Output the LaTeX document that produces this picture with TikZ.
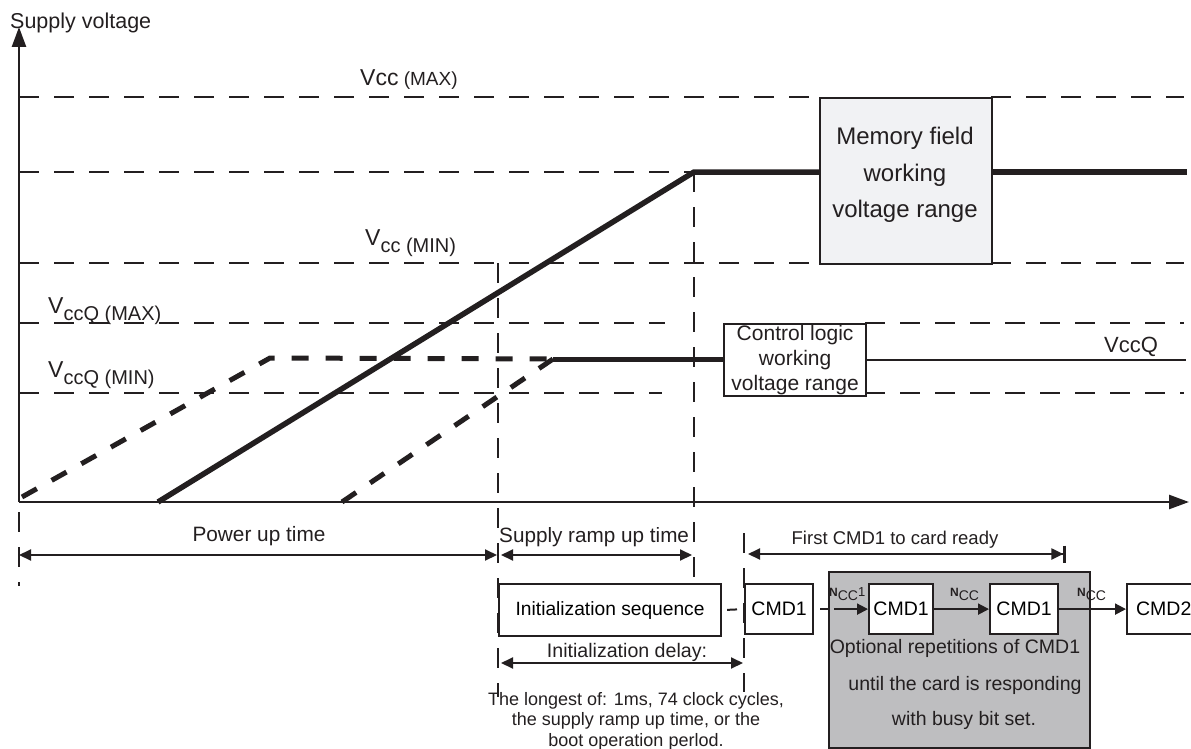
\documentclass[tikz,border=0pt]{standalone}
\usepackage{fontspec}
\setmainfont{Liberation Sans}
\usetikzlibrary{arrows.meta}
\definecolor{ink}{RGB}{35,31,32}
\definecolor{fieldFill}{RGB}{241,242,244}
\definecolor{repFill}{RGB}{190,190,192}
\newcommand{\fsz}[1]{\fontsize{#1}{#1}\selectfont}
\newcommand{\vsub}[1]{{\fsz{23}V}\raisebox{-7pt}{\fsz{20}#1}}
\newcommand{\ncc}{{\fsz{12}\bfseries N}\raisebox{-4pt}{\fsz{14}CC}}
\begin{document}
\begin{tikzpicture}
[x=1pt,y=-1pt,
  gridDecorate/.style={ink,line width=2.2pt,dash pattern=on 20pt off 15pt},
  axisDecorate/.style={ink,line width=2.6pt,-{Triangle[length=20pt,width=14pt]}},
  rampDecorate/.style={ink,line width=5.5pt},
  rampDashDecorate/.style={ink,line width=5pt,dash pattern=on 17pt off 17pt},
  boxDecorate/.style={draw=ink,line width=2.2pt,inner sep=0pt,anchor=north west,fill=white},
  dimDecorate/.style={ink,line width=2pt,{Triangle[length=12pt,width=11pt]}-{Triangle[length=12pt,width=11pt]}},
  seqDecorate/.style={ink,line width=2pt,-{Triangle[length=11pt,width=11pt]}},
  txtDecorate/.style={ink,inner sep=0pt,anchor=base}]
\useasboundingbox (0,0) rectangle (1191,749);
%% axes
\coordinate (O) at (19,502);
\coordinate (ytip) at (19,27);
\coordinate (xtip) at (1189,502);
\node (ylab) [txtDecorate,anchor=base west] at (10,29) {\fsz{21.5}Supply voltage};
\draw[axisDecorate] (O) -- (ytip);
\draw[axisDecorate] (O) -- (xtip);
%% voltage levels
\foreach \ya/\xa/\xb in {97/19/819, 97/991/1184, 172/19/694, 263/19/819, 263/991/1184,
  323/19/665, 323/865/1184, 393/19/662, 393/865/1184}
  \draw[gridDecorate] (\xa,\ya) -- (\xb,\ya);
%% time marks
\foreach \xa/\ya/\yb in {19/512/586, 498/263/697, 694/172/583, 744/533/692}
  \draw[gridDecorate] (\xa,\ya) -- (\xa,\yb);
%% working range boxes
\node (field) [boxDecorate,fill=fieldFill,minimum width=172pt,minimum height=166pt] at (819,97) {};
\node (fieldtxt) [ink,align=center,inner sep=0pt,font=\fontsize{24}{36.5}\selectfont] at (905,175)
  {Memory field\\working\\voltage range};
\node (ctl) [boxDecorate,minimum width=142pt,minimum height=72pt] at (723,323) {};
\node (ctltxt) [ink,align=center,inner sep=0pt,font=\fontsize{21}{25}\selectfont] at (ctl.center)
  {Control logic\\working\\voltage range};
%% level labels
\node (vccmax) [txtDecorate,anchor=base west] at (360,86) {{\fsz{23}Vcc}{\fsz{19} (MAX)}};
\node (vccmin) [txtDecorate,anchor=base west] at (365,245) {\vsub{cc (MIN)}};
\node (vccqmax) [txtDecorate,anchor=base west] at (48,313) {\vsub{ccQ (MAX)}};
\node (vccqmin) [txtDecorate,anchor=base west] at (48,377) {\vsub{ccQ (MIN)}};
\node (vccq) [txtDecorate,anchor=base west] at (1104,352) {\fsz{22}VccQ};
%% supply ramps
\coordinate (vccA) at (158,502);
\coordinate (vccB) at (694,172);
\coordinate (vccE) at (1187,172);
\draw[rampDecorate] (vccA) -- (vccB) -- (field.west |- vccB);
\draw[rampDecorate] (field.east |- vccB) -- (vccE);
\coordinate (qA) at (22,497);
\coordinate (qB) at (270,358);
\coordinate (qC) at (553,359);
\coordinate (qD) at (342,502);
\coordinate (qE) at (1186,360);
\draw[rampDashDecorate] (qA) -- (qB) -- (qC);
\draw[rampDashDecorate] (qD) -- (qC);
\draw[rampDecorate,line width=5pt] (qC) -- (ctl.west |- qC);
\draw[ink,line width=2.4pt] (ctl.east |- qE) -- (qE);
%% durations
\coordinate (pwrL) at (19,555);
\coordinate (pwrR) at (497,555);
\coordinate (rmpL) at (501,555);
\coordinate (rmpR) at (692,555);
\coordinate (dlyL) at (501,663);
\coordinate (dlyR) at (743,663);
\coordinate (rdyL) at (748,554);
\coordinate (rdyR) at (1066,554);
\draw[dimDecorate] (pwrL) -- (pwrR);
\draw[dimDecorate] (rmpL) -- (rmpR);
\draw[dimDecorate] (dlyL) -- (dlyR);
\draw[dimDecorate,{Triangle[length=12pt,width=11pt]}-{Triangle[length=12pt,width=11pt,sep=0pt]Bar[width=17pt,line width=2.6pt,sep=0pt]}] (rdyL) -- (rdyR);
\node (pwrtxt) [txtDecorate] at (259,541) {\fsz{20.8}Power up time};
\node (rmptxt) [txtDecorate,anchor=base west] at (499,542) {\fsz{20.7}Supply ramp up time};
\node (rdytxt) [txtDecorate] at (895,544) {\fsz{18.5}First CMD1 to card ready};
\node (dlytxt) [txtDecorate] at (627,657) {\fsz{19.6}Initialization delay:};
\node (notetxt) [ink,align=center,inner sep=0pt,font=\fontsize{18}{20.5}\selectfont] at (636,721)
  {The longest of: 1ms, 74 clock cycles,\\the supply ramp up time, or the\\boot operation perlod.};
%% command sequence
\node (rep) [boxDecorate,fill=repFill,minimum width=261pt,minimum height=176pt] at (828,571) {};
\node (init) [boxDecorate,minimum width=222pt,minimum height=52pt,font=\fsz{19.2}] at (498,583) {Initialization sequence};
\foreach \nodename/\x/\w/\t in {cmdA/744/68/CMD1, cmdB/868/64/CMD1, cmdC/989/68/CMD1}
  \node (\nodename) [boxDecorate,minimum width=\w pt,minimum height=50pt,font=\fsz{19.5}] at (\x,583) {\t};
\node (cmdD) [boxDecorate,minimum width=76pt,minimum height=50pt,font=\fsz{19.5},text width=66pt] at (1126,583) {\hspace{4pt}CMD2};
\foreach \i/\x/\y/\t in {1/955/653/Optional repetitions of CMD1, 2/965/690/until the card is responding, 3/964/725/with busy bit set.}
  \node (rep\i) [txtDecorate] at (\x,\y) {\fsz{19.5}\t};
\draw[ink,line width=2pt,shorten <=5pt,shorten >=7pt] (init.east) -- (cmdA.west);
\draw[ink,line width=2pt,shorten <=6pt] (cmdA.east) -- (cmdA.east -| rep.west);
\draw[seqDecorate] (cmdA.east -| rep.west) ++(6,0) -- (cmdB.west);
\draw[seqDecorate] (cmdB.east) -- (cmdC.west);
\draw[seqDecorate] (cmdC.east) -- (cmdD.west);
\node (ncc1) [txtDecorate,anchor=base west] at (829,596) {\ncc{\fsz{13}1}};
\node (ncc2) [txtDecorate,anchor=base west] at (950,596) {\ncc};
\node (ncc3) [txtDecorate,anchor=base west] at (1077,596) {\ncc};
\end{tikzpicture}
\end{document}
